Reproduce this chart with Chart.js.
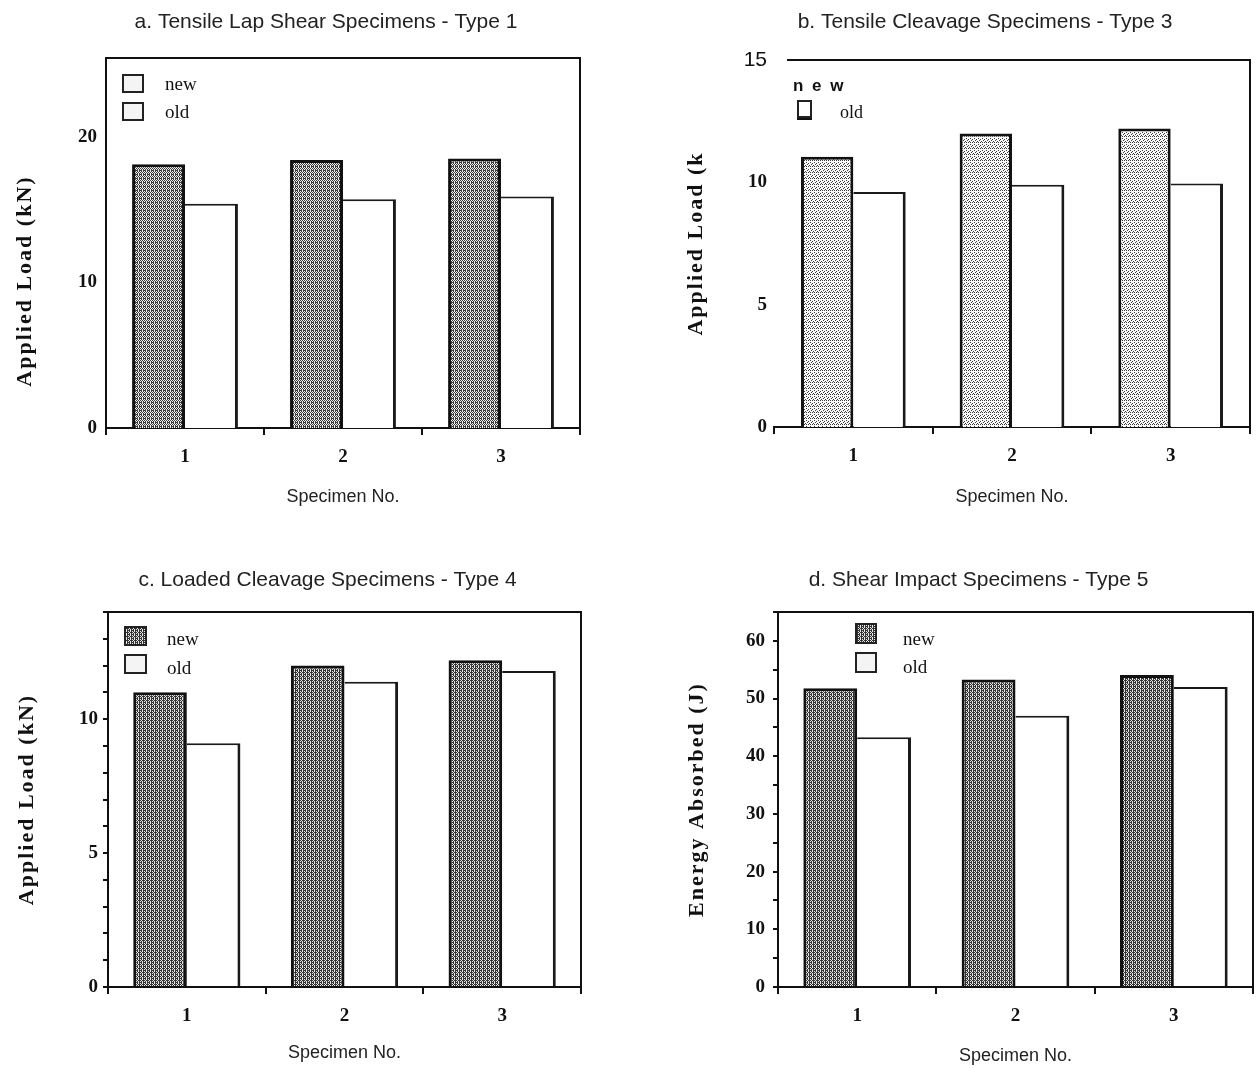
<!DOCTYPE html>
<html>
<head>
<meta charset="utf-8">
<title>Specimen load tests</title>
<script src="https://cdn.jsdelivr.net/npm/chart.js@4.4.1/dist/chart.umd.min.js"></script>
<style>
  html, body { margin: 0; padding: 0; background: #fff; overflow: hidden; width: 1258px; height: 1069px; }
  canvas { position: absolute; }
</style>
</head>
<body>
<canvas id="chartA" width="654" height="534" style="left:0px;top:0px"></canvas>
<canvas id="chartB" width="630" height="534" style="left:670px;top:0px"></canvas>
<canvas id="chartC" width="656" height="535" style="left:0px;top:534px"></canvas>
<canvas id="chartD" width="618" height="535" style="left:670px;top:534px"></canvas>
<script>
// Data
const specimens = ['1', '2', '3'];
const seriesNames = ['new', 'old'];

const lapShearNew = [18.1, 18.4, 18.5];
const lapShearOld = [15.4, 15.7, 15.9];

const cleavageNew = [11.05, 12.0, 12.2];
const cleavageOld = [9.6, 9.9, 9.95];

const loadedNew = [11.0, 12.0, 12.2];
const loadedOld = [9.1, 11.4, 11.8];

const impactNew = [51.8, 53.3, 54.1];
const impactOld = [43.3, 47.0, 52.0];

const panelTitles = [
    'a. Tensile Lap Shear Specimens - Type 1',
    'b. Tensile Cleavage Specimens - Type 3',
    'c. Loaded Cleavage Specimens - Type 4',
    'd. Shear Impact Specimens - Type 5',
];
const xTitle = 'Specimen No.';

// fonts
const SERIF = '"Liberation Serif", "Times New Roman", serif';
const SANS = '"Liberation Sans", Arial, sans-serif';
const tickFont = { family: SERIF, size: 19, weight: 'bold' };
const yTitleFont = { family: SERIF, size: 22, weight: 'bold' };
const headFont = { family: SANS, size: 21, weight: 'normal' };
const sansFont = { family: SANS, size: 18, weight: 'normal' };

// stipple fill like the scanned halftone
function makePattern(canvasId, rows, dark, light) {
    const tile = document.createElement('canvas');
    tile.width = rows[0].length;
    tile.height = rows.length;
    const g = tile.getContext('2d');
    g.fillStyle = light;
    g.fillRect(0, 0, tile.width, tile.height);
    g.fillStyle = dark;
    rows.forEach((r, y) => {
        for (let x = 0; x < r.length; x++) {
            if (r[x] === 'x') g.fillRect(x, y, 1, 1);
        }
    });
    return document.getElementById(canvasId).getContext('2d').createPattern(tile, 'repeat');
}
const denseRows = ['x.x.', '.x.x', 'xx.x', '.x.x'];
const darkRows = ['xx.x', '.x.x', 'x.xx', '.x.x'];
const sparseRows = ['x...', '..x.', '.x..', '...x', 'x.x.', '....'];

// legend, frame and heading settings per canvas
const legendSpecs = {
    chartA: [
        { box: [20, 17], boxX: 17, boxY: 17, fill: '#f4f4f4', textX: 59, textY: 27, font: '19px ' + SERIF },
        { box: [20, 17], boxX: 17, boxY: 45, fill: '#f4f4f4', textX: 59, textY: 55, font: '19px ' + SERIF },
    ],
    chartB: [
        { text: 'n e w', textX: 19, textY: 26, font: 'bold 17px ' + SANS, spacing: '2px' },
        { box: [13, 16], boxX: 24, boxY: 41, fill: '#fff', shadow: true, textX: 66, textY: 53, font: '18px ' + SERIF },
    ],
    chartC: [
        { box: [21, 18], boxX: 17, boxY: 15, fill: 'darkC', textX: 59, textY: 28, font: '19px ' + SERIF },
        { box: [21, 18], boxX: 17, boxY: 43, fill: '#f4f4f4', textX: 59, textY: 57, font: '19px ' + SERIF },
    ],
    chartD: [
        { box: [20, 19], boxX: 78, boxY: 12, fill: 'darkD', textX: 125, textY: 28, font: '19px ' + SERIF },
        { box: [20, 19], boxX: 78, boxY: 41, fill: '#f4f4f4', textX: 125, textY: 56, font: '19px ' + SERIF },
    ],
};
const frameSpecs = {
    chartA: { topInset: 0 },
    chartB: { topInset: 13 },
    chartC: { topInset: 0 },
    chartD: { topInset: 0 },
};
// headings in the scan sit a bit right of the plot centre
const headShift = { chartA: 36, chartB: 25, chartC: 37, chartD: 17 };
const legendFills = {};

const framePlugin = {
    id: 'frame',
    afterLayout(chart) {
        const block = chart.titleBlock;
        const dx = headShift[chart.canvas.id] || 0;
        if (block && !block._shifted) {
            const draw = block.draw;
            block.draw = function () {
                this.ctx.save();
                this.ctx.translate(dx, 0);
                draw.apply(this, arguments);
                this.ctx.restore();
            };
            block._shifted = true;
        }
    },
    afterDraw(chart) {
        const spec = frameSpecs[chart.canvas.id];
        const { ctx, chartArea: { left, top, right, bottom } } = chart;
        ctx.save();
        ctx.strokeStyle = '#111';
        ctx.lineWidth = 2;
        ctx.beginPath();
        ctx.moveTo(left + spec.topInset, top);
        ctx.lineTo(right, top);
        ctx.lineTo(right, bottom);
        ctx.stroke();
        ctx.restore();
    }
};

const boxLegendPlugin = {
    id: 'boxLegend',
    afterDraw(chart) {
        const items = legendSpecs[chart.canvas.id];
        const { ctx, chartArea } = chart;
        items.forEach((it, i) => {
            const text = it.text || chart.data.datasets[i].label;
            ctx.save();
            if (it.box) {
                const bx = chartArea.left + it.boxX, by = chartArea.top + it.boxY;
                if (it.shadow) {
                    ctx.fillStyle = '#111';
                    ctx.fillRect(bx - 1, by + 3, it.box[0] + 2, it.box[1]);
                }
                ctx.fillStyle = legendFills[it.fill] || it.fill;
                ctx.fillRect(bx, by, it.box[0], it.box[1]);
                ctx.strokeStyle = '#222';
                ctx.lineWidth = 2;
                ctx.strokeRect(bx, by, it.box[0], it.box[1]);
            }
            if (it.spacing) ctx.letterSpacing = it.spacing;
            ctx.font = it.font;
            ctx.fillStyle = '#111';
            ctx.textAlign = 'left';
            ctx.textBaseline = 'middle';
            ctx.fillText(text, chartArea.left + it.textX, chartArea.top + it.textY);
            ctx.restore();
        });
    }
};

function barSets(newValues, oldValues, fill, catPct) {
    return [{
        label: seriesNames[0],
        data: newValues,
        backgroundColor: fill,
        borderColor: '#111',
        borderWidth: { top: 3, left: 3, right: 3, bottom: 0 },
        borderSkipped: 'start',
        barPercentage: 1,
        categoryPercentage: catPct,
    }, {
        label: seriesNames[1],
        data: oldValues,
        backgroundColor: '#fff',
        borderColor: '#1a1a1a',
        borderWidth: { top: 2, left: 0, right: 3, bottom: 0 },
        borderSkipped: 'start',
        barPercentage: 1,
        categoryPercentage: catPct,
    }];
}

// the scanned axis titles are widely letter-spaced
function spaceOutTitle(scale, shift) {
    if (scale._spacedTitle) return;
    const drawTitle = scale.drawTitle;
    scale.drawTitle = function () {
        this.ctx.save();
        this.ctx.letterSpacing = '2px';
        this.ctx.translate(0, shift);
        drawTitle.call(this);
        this.ctx.restore();
    };
    scale._spacedTitle = true;
}

function buildOptions(cfg) {
    return {
        responsive: false,
        animation: false,
        devicePixelRatio: 1,
        layout: { padding: { left: 0, right: cfg.padRight, top: 0, bottom: 0 } },
        plugins: {
            legend: { display: false },
            tooltip: { enabled: false },
            title: {
                display: true,
                text: cfg.title,
                color: '#222',
                font: headFont,
                padding: { top: cfg.titleTop, bottom: cfg.titleBottom },
            },
        },
        scales: {
            x: {
                grid: {
                    display: true, drawOnChartArea: false, drawTicks: true,
                    tickLength: 7, color: '#111', lineWidth: 2, offset: true,
                },
                border: { display: true, color: '#111', width: 2 },
                ticks: { color: '#111', font: tickFont, padding: 11 },
                title: {
                    display: true, text: xTitle, color: '#222', font: sansFont,
                    padding: { top: 0, bottom: cfg.xTitleBottom },
                },
                afterFit: (scale) => { scale.height = cfg.xHeight; },
            },
            y: {
                min: 0,
                max: cfg.max,
                grid: cfg.yGrid,
                border: { display: cfg.yBorder, color: '#111', width: 2 },
                ticks: {
                    stepSize: cfg.step,
                    includeBounds: false,
                    autoSkip: false,
                    color: '#111',
                    font: cfg.tickFont || tickFont,
                    padding: cfg.tickPad,
                    callback: cfg.label,
                },
                title: {
                    display: true, text: cfg.yTitle, color: '#111', font: yTitleFont,
                    padding: { top: cfg.yTitlePad, bottom: 0 },
                },
                afterFit: (scale) => {
                    scale.width = cfg.yWidth;
                    spaceOutTitle(scale, cfg.yTitleShift || 0);
                },
            },
        },
    };
}

const noGrid = { display: false, drawTicks: false };
const minorGrid = { display: true, drawOnChartArea: false, drawTicks: true, tickLength: 5, color: '#111', lineWidth: 2 };

// patterns
const fillA = makePattern('chartA', denseRows, '#3a3a3a', '#f0f0f0');
const fillB = makePattern('chartB', sparseRows, '#3a3a3a', '#fafafa');
const fillC = makePattern('chartC', darkRows, '#333', '#e8e8e8');
const fillD = makePattern('chartD', darkRows, '#333', '#e8e8e8');
legendFills.darkC = fillC;
legendFills.darkD = fillD;

const plugins = [framePlugin, boxLegendPlugin];

// a. Tensile lap shear
new Chart(document.getElementById('chartA'), {
    type: 'bar',
    data: { labels: specimens, datasets: barSets(lapShearNew, lapShearOld, fillA, 0.67) },
    options: buildOptions({
        title: panelTitles[0], titleTop: 10, titleBottom: 22.8, padRight: 74,
        xHeight: 106, xTitleBottom: 26,
        max: 25.4, step: 10, yGrid: noGrid, yBorder: true, tickPad: 9,
        label: (v) => v,
        yTitle: 'Applied Load (kN)', yTitlePad: 12, yWidth: 106, yTitleShift: 38,
    }),
    plugins: plugins,
});

// b. Tensile cleavage
new Chart(document.getElementById('chartB'), {
    type: 'bar',
    data: { labels: specimens, datasets: barSets(cleavageNew, cleavageOld, fillB, 0.66) },
    options: buildOptions({
        title: panelTitles[1], titleTop: 10, titleBottom: 24.8, padRight: 50,
        xHeight: 107, xTitleBottom: 26,
        max: 15, step: 5, yGrid: noGrid, yBorder: false, tickPad: 7,
        tickFont: (ctx) => (ctx.tick && ctx.tick.value === 15)
            ? { family: SANS, size: 21, weight: 'normal' } : tickFont,
        label: (v) => v,
        yTitle: 'Applied Load (k', yTitlePad: 13, yWidth: 104,
    }),
    plugins: plugins,
});

// c. Loaded cleavage
new Chart(document.getElementById('chartC'), {
    type: 'bar',
    data: { labels: specimens, datasets: barSets(loadedNew, loadedOld, fillC, 0.68) },
    options: buildOptions({
        title: panelTitles[2], titleTop: 34, titleBottom: 18.8, padRight: 75,
        xHeight: 82, xTitleBottom: 5,
        max: 14, step: 1, yGrid: minorGrid, yBorder: true, tickPad: 5,
        label: (v) => (v % 5 === 0 ? v : ''),
        yTitle: 'Applied Load (kN)', yTitlePad: 14, yWidth: 108,
    }),
    plugins: plugins,
});

// d. Shear impact
new Chart(document.getElementById('chartD'), {
    type: 'bar',
    data: { labels: specimens, datasets: barSets(impactNew, impactOld, fillD, 0.68) },
    options: buildOptions({
        title: panelTitles[3], titleTop: 34, titleBottom: 18.8, padRight: 35,
        xHeight: 82, xTitleBottom: 2,
        max: 65, step: 5, yGrid: minorGrid, yBorder: true, tickPad: 8,
        label: (v) => (v % 10 === 0 ? v : ''),
        yTitle: 'Energy Absorbed (J)', yTitlePad: 14, yWidth: 108,
    }),
    plugins: plugins,
});
</script>
</body>
</html>
